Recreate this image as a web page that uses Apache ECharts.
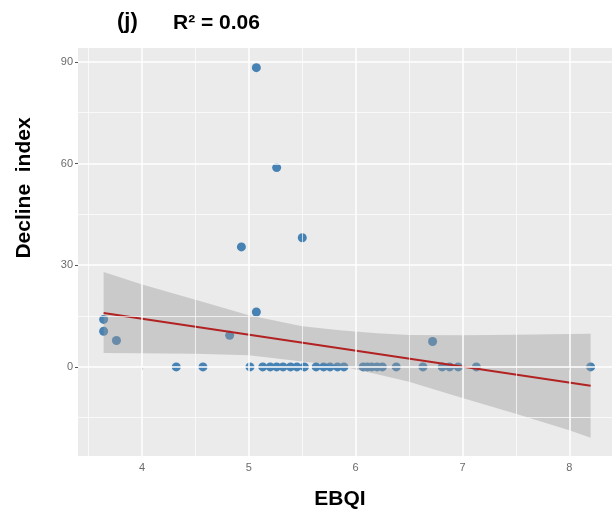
<!DOCTYPE html>
<html>
<head>
<meta charset="utf-8">
<script src="https://cdn.jsdelivr.net/npm/echarts@6/dist/echarts.min.js"></script>
<style>
html,body{margin:0;padding:0;background:#fff;}
#c{width:612px;height:514px;}
</style>
</head>
<body>
<div id="c"></div>
<script>
// ---- data ----
const pointsX = [5.07, 5.26, 5.50, 4.93, 3.64, 3.64, 3.76, 4.82, 5.07, 6.72,
  4.32, 4.57, 5.01, 5.13, 5.20, 5.26, 5.32, 5.39, 5.45, 5.52,
  5.63, 5.70, 5.76, 5.83, 5.89, 6.07, 6.11, 6.15, 6.20, 6.25,
  6.38, 6.63, 6.81, 6.88, 6.96, 7.13, 8.20];
const pointsY = [88.3, 58.8, 38.1, 35.4, 14.0, 10.5, 7.8, 9.3, 16.2, 7.5,
  0, 0, 0, 0, 0, 0, 0, 0, 0, 0,
  0, 0, 0, 0, 0, 0, 0, 0, 0, 0,
  0, 0, 0, 0, 0, 0, 0];
const fitX = [3.64, 8.20];
const fitY = [15.9, -5.6];
const bandX =     [3.64, 4.0, 4.5, 5.0, 5.5, 5.85, 6.2, 6.5, 7.0, 7.5, 8.0, 8.20];
const bandUpper = [28.0, 24.3, 19.8, 15.2, 12.0, 10.8, 9.9, 9.4, 9.3, 9.5, 9.7, 9.8];
const bandLower = [4.1, 4.0, 3.9, 3.4, 1.6, 0.3, -2.2, -4.4, -9.2, -13.8, -18.7, -20.9];
const xTicks = [4, 5, 6, 7, 8];
const yTicks = [0, 30, 60, 90];
const xMinor = [3.5, 4.5, 5.5, 6.5, 7.5];
const yMinor = [-15, 15, 45, 75];
const titleTag = '(j)';
const titleR2 = 'R\u00b2 = 0.06';
const xName = 'EBQI';
const yName = 'Decline  index';

// ---- chart ----
const chart = echarts.init(document.getElementById('c'), null, {renderer: 'canvas'});
const FONT = '"Liberation Sans", Arial, sans-serif';

const scatterData = pointsX.map((x, i) => [x, pointsY[i]]);
const fitData = fitX.map((x, i) => [x, fitY[i]]);
const bandData = bandX.map((x, i) => [x, bandLower[i], bandUpper[i]]);

const gridLine = (vals, axis, w) => vals.map(v => ({[axis]: v, lineStyle: {color: '#ffffff', width: w, type: 'solid'}}));

chart.setOption({
  animation: false,
  backgroundColor: '#ffffff',
  grid: {
    left: 78, right: 0, top: 48, bottom: 58,
    show: true, backgroundColor: '#ebebeb', borderWidth: 0,
    containLabel: false, outerBoundsMode: 'none'
  },
  xAxis: {
    type: 'value', min: 3.4, max: 8.4,
    axisLine: {show: false},
    splitLine: {show: false},
    axisTick: {show: true, customValues: xTicks, length: 3, lineStyle: {color: '#555', width: 1}},
    axisLabel: {customValues: xTicks, color: '#6b6b6b', fontSize: 11, fontFamily: FONT, margin: 6}
  },
  yAxis: {
    type: 'value', min: -26.3, max: 94.1,
    axisLine: {show: false},
    splitLine: {show: false},
    axisTick: {show: true, customValues: yTicks, length: 3, lineStyle: {color: '#555', width: 1}},
    axisLabel: {customValues: yTicks, color: '#6b6b6b', fontSize: 11, fontFamily: FONT, margin: 5}
  },
  graphic: [
    {type: 'text', left: 117, top: 11, style: {text: titleTag, font: 'bold 22px ' + FONT, fill: '#000'}},
    {type: 'text', left: 173, top: 13, style: {text: titleR2, font: 'bold 21px ' + FONT, fill: '#000'}},
    {type: 'text', x: 340, y: 499, style: {text: xName, font: 'bold 21px ' + FONT, fill: '#000', align: 'center', verticalAlign: 'middle'}},
    {type: 'text', x: 24, y: 188, rotation: Math.PI / 2, style: {text: yName, font: 'bold 21px ' + FONT, fill: '#000', align: 'center', verticalAlign: 'middle'}}
  ],
  series: [
    {
      type: 'line', data: [], z: 1, silent: true,
      markLine: {
        silent: true, symbol: 'none', label: {show: false}, animation: false,
        data: [].concat(
          gridLine(xMinor, 'xAxis', 0.7), gridLine(yMinor, 'yAxis', 0.7),
          gridLine(xTicks, 'xAxis', 1.5), gridLine(yTicks, 'yAxis', 1.5)
        )
      }
    },
    {
      type: 'scatter', data: scatterData, z: 2, symbolSize: 9,
      itemStyle: {color: '#4682b4', opacity: 1}
    },
    {
      type: 'custom', data: bandData, z: 3, clip: true, silent: true,
      encode: {x: 0, y: [1, 2]},
      renderItem: function (params, api) {
        if (params.dataIndex !== 0) return null;
        const pts = [];
        for (let i = 0; i < bandX.length; i++) pts.push(api.coord([bandX[i], bandUpper[i]]));
        for (let i = bandX.length - 1; i >= 0; i--) pts.push(api.coord([bandX[i], bandLower[i]]));
        return {type: 'polygon', shape: {points: pts}, style: {fill: 'rgba(153,153,153,0.4)', stroke: null}};
      }
    },
    {
      type: 'line', data: fitData, z: 4, showSymbol: false, symbol: 'none',
      lineStyle: {color: '#b22222', width: 2}
    }
  ]
});
</script>
</body>
</html>
